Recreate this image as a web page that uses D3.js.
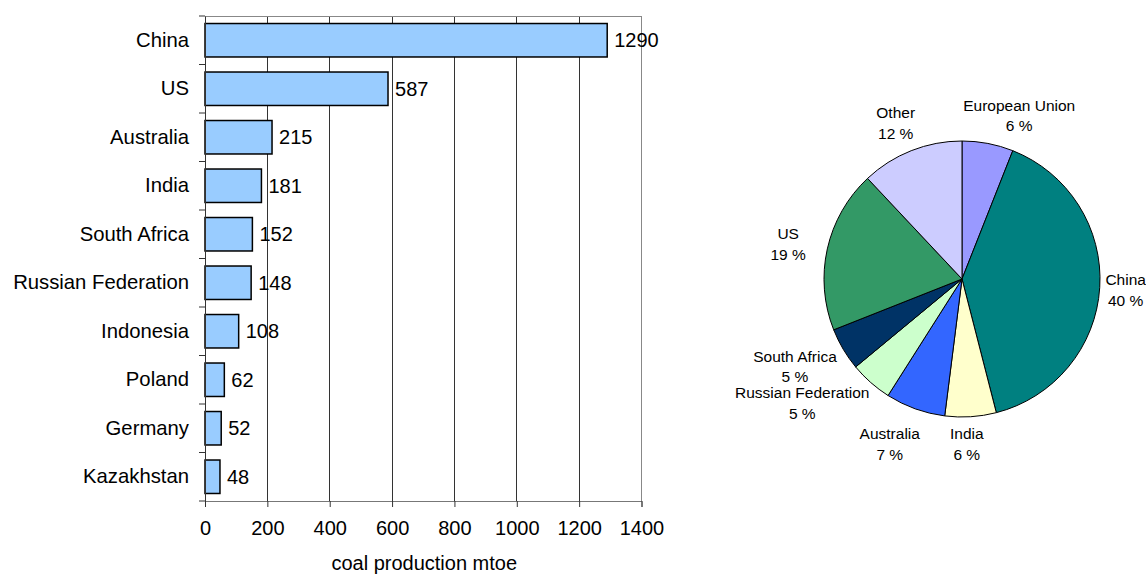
<!DOCTYPE html>
<html>
<head>
<meta charset="utf-8">
<script src="https://cdn.jsdelivr.net/npm/d3@7"></script>
<style>
  html, body { margin: 0; padding: 0; background: #fff; }
  svg { display: block; font-family: "Liberation Sans", Arial, sans-serif; }
</style>
</head>
<body>
<svg id="chart" width="1146" height="575"></svg>
<script>
// Coal production by country (mtoe)
const countries = ["China", "US", "Australia", "India", "South Africa",
  "Russian Federation", "Indonesia", "Poland", "Germany", "Kazakhstan"];
const production = [1290, 587, 215, 181, 152, 148, 108, 62, 52, 48];
const xTicks = [0, 200, 400, 600, 800, 1000, 1200, 1400];

// Share of world coal production (%)
const shareNames = ["European Union", "China", "India", "Australia",
  "Russian Federation", "South Africa", "US", "Other"];
const shareValues = [6, 40, 6, 7, 5, 5, 19, 12];
const shareColors = ["#9999FF", "#008080", "#FFFFCC", "#3366FF",
  "#CCFFCC", "#003366", "#339966", "#CCCCFF"];

const svg = d3.select("#chart");

// ---------- Bar chart ----------
const plot = { left: 205, right: 641.5, top: 16, bottom: 501 };

const x = d3.scaleLinear().domain([0, 1400]).range([plot.left, plot.right]);
const y = d3.scaleBand().domain(countries).range([plot.top, plot.bottom])
  .paddingInner(0.31).paddingOuter(0.155);

const bars = svg.append("g");

// vertical gridlines
bars.append("g").selectAll("line")
  .data(xTicks.filter(v => v > 0 && v < 1400))
  .join("line")
  .attr("x1", d => x(d)).attr("x2", d => x(d))
  .attr("y1", plot.top).attr("y2", plot.bottom)
  .attr("stroke", "#333").attr("stroke-width", 1)
  .attr("shape-rendering", "crispEdges");

// plot-area border (top and right)
bars.append("path")
  .attr("d", `M${plot.left},${plot.top}H${plot.right}V${plot.bottom}`)
  .attr("fill", "none").attr("stroke", "#888").attr("stroke-width", 1)
  .attr("shape-rendering", "crispEdges");

// bars
const data = countries.map((c, i) => ({ name: c, value: production[i] }));
bars.append("g").selectAll("rect")
  .data(data)
  .join("rect")
  .attr("x", x(0))
  .attr("y", d => y(d.name))
  .attr("width", d => x(d.value) - x(0))
  .attr("height", y.bandwidth())
  .attr("fill", "#99CCFF")
  .attr("stroke", "#000").attr("stroke-width", 1.5);

// value labels
bars.append("g").selectAll("text")
  .data(data)
  .join("text")
  .attr("x", d => x(d.value) + 7)
  .attr("y", d => y(d.name) + y.bandwidth() / 2)
  .attr("dy", "0.36em")
  .attr("font-size", 20)
  .attr("fill", "#000")
  .text(d => d.value);

// bottom axis
const xAxis = d3.axisBottom(x).tickValues(xTicks).tickSize(6).tickPadding(14)
  .tickFormat(d3.format("d"));
const gx = bars.append("g").attr("transform", `translate(0,${plot.bottom})`).call(xAxis);
gx.select(".domain").attr("stroke", "#777");
gx.selectAll(".tick line").attr("stroke", "#333");
gx.selectAll("text").attr("font-size", 20).attr("fill", "#000")
  .attr("font-family", "Liberation Sans, Arial, sans-serif");

// left axis: category labels, ticks between categories
const yAxis = d3.axisLeft(y).tickSize(0).tickPadding(16);
const gy = bars.append("g").attr("transform", `translate(${plot.left},0)`).call(yAxis);
gy.select(".domain").attr("stroke", "#333");
gy.selectAll("text").attr("font-size", 20.3).attr("fill", "#000")
  .attr("font-family", "Liberation Sans, Arial, sans-serif");
const bounds = countries.map(c => y(c) - y.step() * y.paddingInner() / 2)
  .concat([plot.bottom]);
bounds[0] = plot.top;
gy.append("g").selectAll("line")
  .data(bounds)
  .join("line")
  .attr("x1", -6).attr("x2", 0)
  .attr("y1", d => d).attr("y2", d => d)
  .attr("stroke", "#333");

// axis title
svg.append("text")
  .attr("x", (plot.left + plot.right) / 2 + 1)
  .attr("y", 570)
  .attr("text-anchor", "middle")
  .attr("font-size", 20)
  .text("coal production mtoe");

// ---------- Pie chart ----------
const cx = 962, cy = 279, radius = 138;
const slices = d3.pie().sort(null).value(d => d.value)(
  shareNames.map((n, i) => ({ name: n, value: shareValues[i], color: shareColors[i] })));
const arc = d3.arc().innerRadius(0).outerRadius(radius);
const labelArc = d3.arc().innerRadius(172).outerRadius(172);

const pie = svg.append("g").attr("transform", `translate(${cx},${cy})`);
pie.selectAll("path")
  .data(slices)
  .join("path")
  .attr("d", arc)
  .attr("fill", d => d.data.color)
  .attr("stroke", "#000").attr("stroke-width", 1);

// label offsets from the label arc, so neighbouring labels stay clear
const labelNudge = {
  "European Union": [25, 5.5], "China": [-8, 0], "India": [-6, -7],
  "Australia": [-14, 3], "Russian Federation": [-46, -5],
  "South Africa": [-19, 0], "US": [-6, 2.5], "Other": [-3, 4]
};
const labels = pie.selectAll("g.lbl")
  .data(slices)
  .join("g")
  .attr("class", "lbl")
  .attr("transform", d => {
    const [lx, ly] = labelArc.centroid(d);
    const [nx, ny] = labelNudge[d.data.name];
    return `translate(${lx + nx},${ly + ny})`;
  });
labels.append("text")
  .attr("text-anchor", "middle").attr("y", -10.3).attr("dy", "0.36em")
  .attr("font-size", 15.5)
  .text(d => d.data.name);
labels.append("text")
  .attr("text-anchor", "middle").attr("y", 10.3).attr("dy", "0.36em")
  .attr("font-size", 15.5)
  .text(d => `${d.data.value} %`);
</script>
</body>
</html>
